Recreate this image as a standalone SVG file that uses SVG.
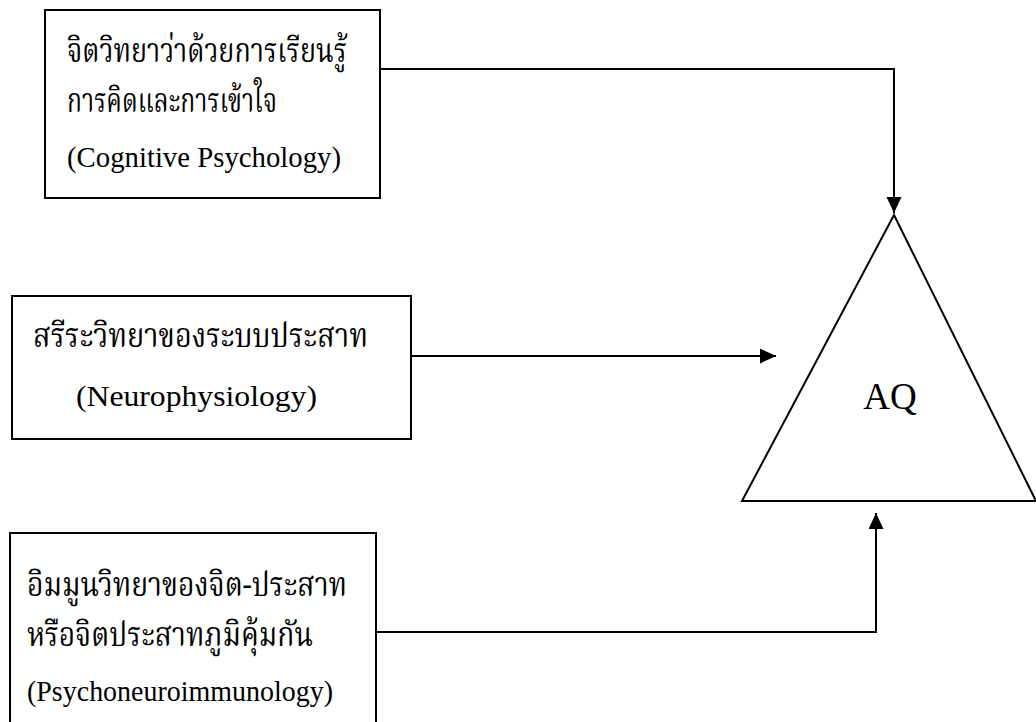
<svg xmlns="http://www.w3.org/2000/svg" width="1036" height="722" viewBox="0 0 1036 722">
<style>
.box{fill:#fff;stroke:#000;stroke-width:2}
.tri{fill:#fff;stroke:#000;stroke-width:2;stroke-linejoin:miter}
.conn{fill:none;stroke:#000;stroke-width:2}
.th{font-family:"Noto Serif Thai","Noto Sans Thai","Liberation Serif",serif;font-size:33px;fill:#000}
.en{font-family:"Liberation Serif","Times New Roman",serif;font-size:29px;fill:#000}
.aq{font-family:"Liberation Serif","Times New Roman",serif;font-size:37px;fill:#000;text-anchor:middle}
</style>
<defs>
<marker id="arr" markerUnits="userSpaceOnUse" markerWidth="17" markerHeight="17" refX="16" refY="7.5" orient="auto">
<path d="M0,0 L16,7.5 L0,15 Z" fill="#000"/>
</marker>
</defs>
<rect width="1036" height="722" fill="#fff"/>
<g id="connectors">
<path class="conn" d="M380 69 H894 V213" marker-end="url(#arr)"/>
<path class="conn" d="M411 356 H776" marker-end="url(#arr)"/>
<path class="conn" d="M376 632 H876 V513" marker-end="url(#arr)"/>
</g>
<g id="node-cognitive">
<rect class="box" x="45" y="10" width="335" height="188"/>
<text class="th" x="67" y="62" textLength="280" lengthAdjust="spacingAndGlyphs">จิตวิทยาว่าด้วยการเรียนรู้</text>
<text class="th" x="67" y="112" textLength="210" lengthAdjust="spacingAndGlyphs">การคิดและการเข้าใจ</text>
<text class="en" x="67" y="167" textLength="274" lengthAdjust="spacingAndGlyphs">(Cognitive  Psychology)</text>
</g>
<g id="node-neuro">
<rect class="box" x="12" y="296" width="399" height="143"/>
<text class="th" x="33" y="347" textLength="335" lengthAdjust="spacingAndGlyphs">สรีระวิทยาของระบบประสาท</text>
<text class="en" x="76" y="406" textLength="241" lengthAdjust="spacingAndGlyphs">(Neurophysiology)</text>
</g>
<g id="node-pni">
<rect class="box" x="10" y="533" width="366" height="200"/>
<text class="th" x="27" y="596" textLength="320" lengthAdjust="spacingAndGlyphs">อิมมูนวิทยาของจิต-ประสาท</text>
<text class="th" x="27" y="646" textLength="286" lengthAdjust="spacingAndGlyphs">หรือจิตประสาทภูมิคุ้มกัน</text>
<text class="en" x="27" y="701" textLength="306" lengthAdjust="spacingAndGlyphs">(Psychoneuroimmunology)</text>
</g>
<g id="node-aq">
<polygon class="tri" points="894,215 742,501 1036,501"/>
<text class="aq" x="890" y="409">AQ</text>
</g>
</svg>
